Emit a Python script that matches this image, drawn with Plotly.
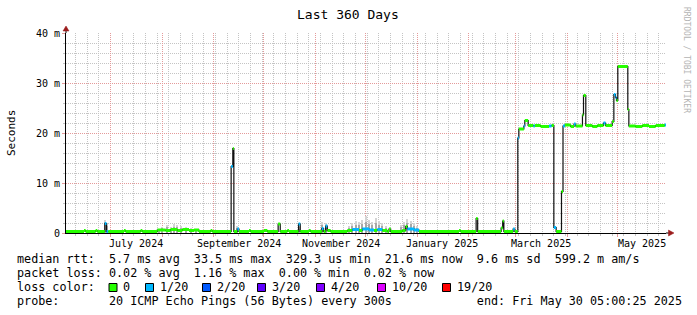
import plotly.graph_objects as go

# ---------------- data ----------------
title_text = "Last 360 Days"
x_start = "2024-06-04 05:00"
x_end = "2025-05-30 05:00"

# median RTT step series (ms) and loss class index (0 -> "0", 1 -> "1/20")
median_dates = [
    "2024-06-04 05:00", "2024-06-15", "2024-06-16", "2024-06-22", "2024-06-23",
    "2024-06-27 12:00", "2024-06-28 12:00", "2024-06-29 12:00",
    "2024-07-09", "2024-07-10", "2024-07-19", "2024-07-20",
    "2024-07-29", "2024-08-03", "2024-08-06", "2024-08-10", "2024-08-13",
    "2024-08-17", "2024-08-20", "2024-08-23", "2024-08-30", "2024-08-31",
    "2024-09-11 07:00", "2024-09-12 07:00", "2024-09-12 22:00",
    "2024-09-15", "2024-09-16", "2024-09-22", "2024-09-23",
    "2024-10-01", "2024-10-03", "2024-10-09 12:00", "2024-10-10 18:00",
    "2024-10-15", "2024-10-16", "2024-10-21 18:00", "2024-10-22 18:00",
    "2024-10-28", "2024-10-29",
    "2024-11-04 18:00", "2024-11-05 18:00", "2024-11-07", "2024-11-08", "2024-11-10",
    "2024-11-20", "2024-11-23", "2024-11-27", "2024-11-29", "2024-12-03",
    "2024-12-06", "2024-12-08", "2024-12-11", "2024-12-14", "2024-12-15", "2024-12-16",
    "2024-12-23", "2024-12-25", "2024-12-26", "2024-12-30", "2025-01-02",
    "2025-01-26", "2025-01-27",
    "2025-02-05 07:00", "2025-02-06 05:00",
    "2025-02-20 07:00", "2025-02-21 05:00", "2025-02-21 22:00",
    "2025-02-27 12:00", "2025-02-28 12:00",
    "2025-03-02 07:00", "2025-03-02 22:00", "2025-03-05 22:00", "2025-03-06 12:00",
    "2025-03-08 12:00", "2025-03-11 17:00", "2025-03-12 12:00", "2025-03-16",
    "2025-03-21", "2025-03-22 12:00",
    "2025-03-23 22:00", "2025-03-25 07:00", "2025-03-28 12:00", "2025-03-29 10:00",
    "2025-03-30 12:00", "2025-04-03", "2025-04-05", "2025-04-06",
    "2025-04-10 02:00", "2025-04-10 17:00", "2025-04-12 02:00", "2025-04-16", "2025-04-19",
    "2025-04-22 17:00", "2025-04-23 22:00", "2025-04-27 22:00", "2025-04-28 22:00",
    "2025-04-29 22:00", "2025-04-30 12:00", "2025-05-01 07:00",
    "2025-05-07 07:00", "2025-05-07 22:00", "2025-05-12", "2025-05-16",
    "2025-05-20", "2025-05-24", "2025-05-29 12:00",
]
median_ms = [
    0.3, 0.5, 0.3, 0.5, 0.3,
    1.9, 0.3, 0.3,
    0.5, 0.3, 0.5, 0.3,
    0.6, 0.5, 0.7, 0.5, 0.7,
    0.5, 0.6, 0.3, 0.5, 0.3,
    13.3, 16.9, 0.3,
    0.8, 0.3, 0.5, 0.3,
    0.5, 0.3, 1.8, 0.3,
    0.5, 0.3, 1.8, 0.3,
    0.5, 0.3,
    0.9, 0.3, 1.4, 0.5, 0.3,
    0.5, 0.7, 0.5, 0.8, 0.6,
    0.5, 0.7, 0.5, 0.3, 0.8, 0.3,
    0.5, 1.3, 0.8, 0.6, 0.3,
    0.5, 0.3,
    2.9, 0.3,
    1.0, 2.4, 0.3,
    0.8, 0.3,
    19.0, 20.8, 21.4, 22.5,
    21.5, 21.4, 21.5, 21.3,
    21.4, 21.5,
    1.1, 0.3, 8.3, 21.4,
    21.6, 21.3, 21.8, 21.4,
    23.6, 27.5, 21.5, 21.3, 21.5,
    22.0, 21.5, 22.3, 27.7,
    27.1, 26.5, 33.3,
    24.7, 21.4, 21.3, 21.5,
    21.3, 21.5, 21.6,
]
median_loss = [
    0, 0, 0, 0, 0,
    1, 1, 0,
    0, 0, 0, 0,
    0, 0, 0, 0, 0,
    0, 0, 0, 0, 0,
    1, 0, 0,
    1, 0, 0, 0,
    0, 0, 0, 0,
    0, 0, 1, 0,
    0, 0,
    1, 0, 1, 0, 0,
    0, 1, 0, 1, 1,
    0, 1, 0, 0, 0, 0,
    0, 0, 1, 1, 0,
    0, 0,
    0, 0,
    0, 0, 0,
    1, 0,
    1, 0, 1, 0,
    0, 1, 0, 0,
    1, 0,
    1, 0, 0, 1,
    0, 0, 1, 0,
    0, 0, 0, 0, 0,
    1, 0, 0, 1,
    1, 0, 0,
    0, 0, 0, 0,
    0, 0, 1,
]

# ping spread ("smoke"), ms
smoke_dates = [
    "2024-06-27 12:00", "2024-06-28 12:00",
    "2024-07-30", "2024-08-01", "2024-08-04", "2024-08-06", "2024-08-08",
    "2024-08-10", "2024-08-12", "2024-08-15", "2024-08-18", "2024-08-21",
    "2024-09-15", "2024-10-22", "2024-11-05", "2024-11-07",
    "2024-11-21", "2024-11-23", "2024-11-25", "2024-11-27", "2024-11-29",
    "2024-12-01", "2024-12-03", "2024-12-05", "2024-12-07", "2024-12-09",
    "2024-12-11", "2024-12-13",
    "2024-12-22", "2024-12-24", "2024-12-26", "2024-12-28", "2024-12-30", "2025-01-01",
]
smoke_hi_ms = [
    2.7, 2.0,
    0.9, 1.3, 1.6, 1.2, 1.8,
    1.6, 1.4, 1.2, 1.0, 0.9,
    1.5, 1.2, 2.3, 2.0,
    1.5, 2.0, 2.4, 2.2, 2.6,
    3.4, 2.6, 2.2, 3.0, 2.5,
    2.0, 1.5,
    1.6, 2.2, 2.8, 2.5, 2.0, 1.4,
]
smoke_mid_ms = [
    2.3, 1.4,
    0.7, 1.0, 1.2, 0.9, 1.3,
    1.2, 1.0, 0.9, 0.8, 0.7,
    1.1, 0.9, 1.6, 1.5,
    1.1, 1.4, 1.7, 1.6, 1.8,
    2.3, 1.8, 1.6, 2.0, 1.7,
    1.4, 1.1,
    1.2, 1.6, 2.0, 1.8, 1.4, 1.0,
]

month_grid = ["2024-07-01", "2024-08-01", "2024-09-01", "2024-10-01", "2024-11-01",
              "2024-12-01", "2025-01-01", "2025-02-01", "2025-03-01", "2025-04-01",
              "2025-05-01"]
month_label_dates = ["2024-07-16", "2024-09-16", "2024-11-16", "2025-01-16",
                     "2025-03-16", "2025-05-16"]
month_labels = ["July 2024", "September 2024", "November 2024", "January 2025",
                "March 2025", "May 2025"]
y_tick_vals = [0, 10, 20, 30, 40]
y_tick_text = ["0", "10 m", "20 m", "30 m", "40 m"]

loss_names = ["0", "1/20", "2/20", "3/20", "4/20", "10/20", "19/20"]
loss_colors = ["#26ff00", "#00b8ff", "#0059ff", "#5e00ff", "#7e00ff", "#dd00ff", "#ff0000"]

stats_rtt = ["5.7 ms avg", "33.5 ms max", "329.3 us min", "21.6 ms now", "9.6 ms sd",
             "599.2 m am/s"]
stats_loss = ["0.02 % avg", "1.16 % max", "0.00 % min", "0.02 % now"]
probe_text = "20 ICMP Echo Pings (56 Bytes) every 300s"
end_text = "end: Fri May 30 05:00:25 2025"

# ---------------- layout helpers ----------------
W_FIG, H_FIG = 697, 315
L, T, PW, PH = 66, 33, 600, 200
MONO = "DejaVu Sans Mono"
NB = "\u00a0"


def px_x(px):
    return (px - L) / PW


def px_y(py):
    return (T + PH - py) / PH


fig = go.Figure()

# smoke
fig.add_trace(go.Bar(x=smoke_dates, y=smoke_hi_ms, width=86400000 * 1.3,
                     marker=dict(color="#d4d4d4", line=dict(width=0)), hoverinfo="skip"))
fig.add_trace(go.Bar(x=smoke_dates, y=smoke_mid_ms, width=86400000 * 1.3,
                     marker=dict(color="#a8a8a8", line=dict(width=0)), hoverinfo="skip"))

# black step line of the median
fig.add_trace(go.Scatter(x=median_dates + [x_end], y=median_ms + [median_ms[-1]],
                         mode="lines", line=dict(color="#111111", width=1.2, shape="hv"),
                         hoverinfo="skip"))

# colored median segments by loss
ends = median_dates[1:] + [x_end]
segs = {}
for d0, d1, v, k in zip(median_dates, ends, median_ms, median_loss):
    xs, ys = segs.setdefault(k, ([], []))
    xs += [d0, d1, None]
    ys += [v, v, None]
for k in sorted(segs):
    xs, ys = segs[k]
    fig.add_trace(go.Scatter(x=xs, y=ys, mode="lines",
                             line=dict(color=loss_colors[k], width=3), hoverinfo="skip"))

MAJ = "#e49a9a"
MIN = "#c4c4c4"

fig.update_layout(
    width=W_FIG, height=H_FIG,
    margin=dict(l=L, r=W_FIG - L - PW, t=T, b=H_FIG - T - PH, pad=0),
    paper_bgcolor="white", plot_bgcolor="white",
    showlegend=False, barmode="overlay", bargap=0,
    font=dict(family=MONO, color="#000000", size=10),
)
fig.update_xaxes(
    type="date", range=[x_start, x_end],
    tickmode="array", tickvals=month_grid, showticklabels=False,
    showgrid=True, gridcolor=MAJ, gridwidth=1, griddash="1px,1px",
    ticks="outside", ticklen=3, tickcolor=MAJ,
    minor=dict(tick0="2024-06-03", dtick=7 * 86400000, showgrid=True,
               gridcolor=MIN, griddash="1px,1px", ticks="outside", ticklen=2, tickcolor=MIN),
    showline=True, linecolor="#000000", linewidth=1, zeroline=False, fixedrange=True,
)
fig.update_yaxes(
    range=[0, 40], tickmode="array", tickvals=y_tick_vals, ticktext=y_tick_text,
    tickfont=dict(family=MONO, size=10, color="#000000"),
    showgrid=True, gridcolor=MAJ, gridwidth=1, griddash="1px,1px",
    ticks="outside", ticklen=3, tickcolor=MAJ,
    minor=dict(dtick=2, showgrid=True, gridcolor=MIN, griddash="1px,1px",
               ticks="outside", ticklen=2, tickcolor=MIN),
    showline=True, linecolor="#000000", linewidth=1, zeroline=False, fixedrange=True,
)

ann = []
# month labels
for d, t in zip(month_label_dates, month_labels):
    ann.append(dict(x=d, xref="x", y=px_y(243), yref="paper", text=t, showarrow=False,
                    xanchor="center", yanchor="middle", font=dict(family=MONO, size=10)))
# title
ann.append(dict(x=px_x(348), y=px_y(14), xref="paper", yref="paper", text=title_text,
                showarrow=False, xanchor="center", yanchor="middle",
                font=dict(family=MONO, size=13)))
# y label
ann.append(dict(x=px_x(11), y=px_y(133), xref="paper", yref="paper", text="Seconds",
                showarrow=False, textangle=-90, xanchor="center", yanchor="middle",
                font=dict(family=MONO, size=11)))
# watermark
ann.append(dict(x=px_x(687), y=px_y(60), xref="paper", yref="paper",
                text="RRDTOOL / TOBI OETIKER", showarrow=False, textangle=90,
                xanchor="center", yanchor="middle",
                font=dict(family=MONO, size=8, color="#b4b4b4")))

# legend lines
SEP = NB * 2
line1 = ("median rtt:".ljust(13) + SEP.join(stats_rtt)).replace(" ", NB)
line2 = ("packet loss: " + SEP.join(stats_loss)).replace(" ", NB)
line4 = ("probe:".ljust(13) + probe_text.ljust(52) + end_text).replace(" ", NB)
for text, py in [(line1, 259), (line2, 273), (line4, 301)]:
    ann.append(dict(x=px_x(15), y=px_y(py), xref="paper", yref="paper", text=text,
                    showarrow=False, xanchor="left", yanchor="middle",
                    font=dict(family=MONO, size=11.75)))
ann.append(dict(x=px_x(15), y=px_y(287), xref="paper", yref="paper",
                text="loss" + NB + "color:", showarrow=False, xanchor="left",
                yanchor="middle", font=dict(family=MONO, size=11.75)))

shapes = []
box_left = [109, 145.5, 202.5, 257.5, 316.5, 377.5, 442.5]
text_left = [122, 158.5, 215.5, 270.5, 329.5, 390.5, 456]
for name, col, bx, tx in zip(loss_names, loss_colors, box_left, text_left):
    shapes.append(dict(type="rect", xref="paper", yref="paper",
                       x0=px_x(bx), x1=px_x(bx + 8), y0=px_y(291.5), y1=px_y(283.5),
                       fillcolor=col, line=dict(color="#000000", width=1)))
    ann.append(dict(x=px_x(tx - 1), y=px_y(287), xref="paper", yref="paper", text=name,
                    showarrow=False, xanchor="left", yanchor="middle",
                    font=dict(family=MONO, size=11.75)))

# axis extensions and arrows
ARROW = "#9b1c1c"
shapes.append(dict(type="line", xref="paper", yref="paper", x0=0, x1=0,
                   y0=1, y1=px_y(29), line=dict(color="#000000", width=1)))
shapes.append(dict(type="line", xref="paper", yref="paper", x0=1, x1=px_x(669),
                   y0=0, y1=0, line=dict(color="#000000", width=1)))
shapes.append(dict(type="path", xref="paper", yref="paper",
                   path=f"M {px_x(66)},{px_y(26)} L {px_x(63)},{px_y(31)} L {px_x(69)},{px_y(31)} Z",
                   fillcolor=ARROW, line=dict(color=ARROW, width=0.5)))
shapes.append(dict(type="path", xref="paper", yref="paper",
                   path=f"M {px_x(674)},{px_y(233)} L {px_x(668.5)},{px_y(230)} L {px_x(668.5)},{px_y(236)} Z",
                   fillcolor=ARROW, line=dict(color=ARROW, width=0.5)))

fig.update_layout(annotations=ann, shapes=shapes)
fig.write_html("out.html")
